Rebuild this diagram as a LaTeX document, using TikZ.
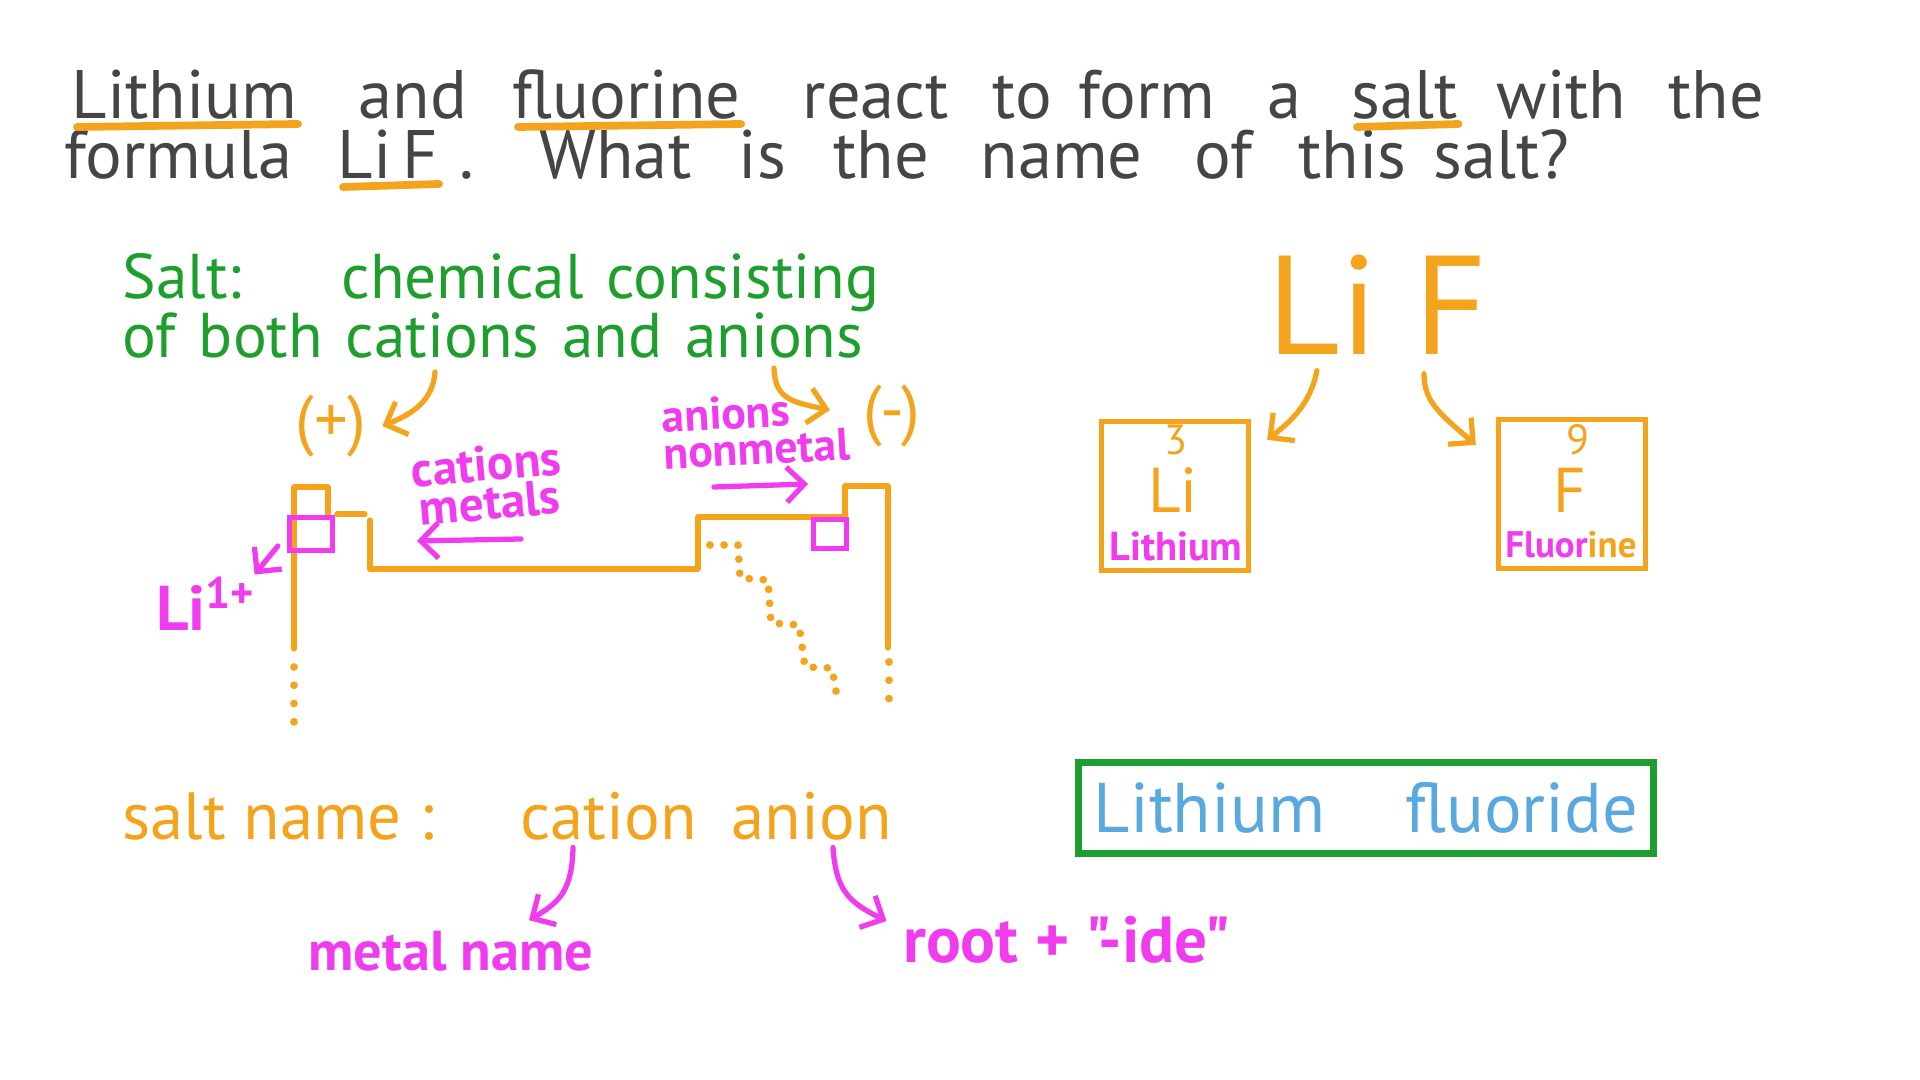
\documentclass[tikz,border=0pt]{standalone}
\usepackage{fontspec}
\setmainfont{PT Sans}
\newfontfamily\plainfont{PT Sans}
\usetikzlibrary{arrows.meta}
\definecolor{inkgray}{HTML}{454545}
\definecolor{penorange}{HTML}{F4A41C}
\definecolor{pengreen}{HTML}{1E9E2C}
\definecolor{penpink}{HTML}{F03CEE}
\definecolor{penblue}{HTML}{5AA8E0}

\begin{document}
\begin{tikzpicture}[
  x=0.01cm,
  y=-0.01cm,
  every node/.style={inner sep=0pt},
  question/.style={anchor=base west, inkgray, font=\fontsize{19.5}{24}\selectfont},
  defn/.style={anchor=base west, pengreen, font=\fontsize{18}{22}\selectfont,
    execute at begin node={\spaceskip=0.36em\relax}},
  hand/.style={penorange, font=\fontsize{19}{23}\selectfont},
  pinktext/.style={penpink, font=\bfseries\fontsize{14}{11}\selectfont},
  stroke/.style={line width=1.5pt, line cap=round, line join=round},
  pointer/.style={stroke, -{Straight Barb[length=5pt, width=10pt]}},
  uline/.style={penorange, line width=2.2pt, line cap=round},
  dotline/.style={penorange, line width=2.2pt, line cap=round, dash pattern=on 0pt off 5.2pt},
  cell/.style={draw=penorange, line width=1.5pt, minimum width=1.47cm, minimum height=1.49cm}
]
\useasboundingbox (0,0) rectangle (1920,1080);

%% ---- question ---------------------------------------------------------
\foreach \x/\w [count=\i] in {71/Lithium, 358/and, 512/fluorine, 802/react, 992/to,
    1078/form, 1267/a, 1351/salt, 1496/with, 1668/the}
  \node[question] (a\i) at (\x,119) {\w};
\foreach \x/\w [count=\i] in {64/formula, 337/{Li\,F}, 459/., 539/What, 738/is,
    833/the, 980/name, 1194/of, 1298/this, 1433/salt?}
  \node[question] (b\i) at (\x,179) {\w};
\foreach \n in {a1, a3, a8, b2}
  \draw[uline] ([shift={(6,8)}]\n.base west) -- ([shift={(0,5)}]\n.base east);

%% ---- definition -------------------------------------------------------
\node[defn] (def1) at (122,299) {Salt:\hspace{1cm}chemical consisting};
\node[defn] (def2) at (122,358) {of both cations and anions};
\coordinate (catfoot) at (435,372);
\coordinate (anfoot) at (774,368);

\node[hand] (plus) at (331,426) {(+)};
\node[hand] (minus) at (892,416) {(-)};
\draw[pointer, penorange] (catfoot) .. controls (433,402) and (410,415)
  .. ([shift={(15,0)}]plus.east);
\draw[pointer, penorange] (anfoot) .. controls (775,398) and (790,402)
  .. ([shift={(-33,-6)}]minus.west);

%% ---- periodic table sketch --------------------------------------------
\draw[stroke, penorange] (294,649) -- (294,487) -- (328,487) -- (328,514);
\draw[stroke, penorange] (337,514) -- (365,514);
\draw[stroke, penorange] (370,520) -- (370,569) -- (698,569) -- (698,517)
  -- (845,517) -- (845,486) -- (888,486) -- (888,648);
\draw[dotline] (294,667) -- (294,722);
\draw[dotline] (889,662) -- (889,702);
\draw[dotline, dash pattern=on 0pt off 4pt] (710,545) -- (738,545) -- (740,578)
  -- (768,580) -- (771,623) -- (799,625) -- (805,667) -- (832,668) -- (837,697);

\node[draw=penpink, line width=1.5pt, minimum width=0.43cm, minimum height=0.33cm] (lisq) at (311,534) {};
\node[draw=penpink, line width=1.5pt, minimum width=0.33cm, minimum height=0.29cm] (fsq) at (830,534) {};
\node[pinktext, font=\bfseries\fontsize{18}{20}\selectfont] (liion) at (206,604) {Li\textsuperscript{1+}};
\draw[pointer, penpink] ([shift={(-9,12)}]lisq.west) -- ([shift={(-2,-2)}]liion.north east);

\node[pinktext, align=center, rotate=5] (catlbl) at (488,483) {cations\\metals};
\draw[pointer, penpink] ([shift={(33,56)}]catlbl.center) -- ([shift={(-71,58)}]catlbl.center);
\node[pinktext, align=left, anchor=west, rotate=3, font=\bfseries\fontsize{13}{10.5}\selectfont]
  (anlbl) at (662,435) {anions\\nonmetal};
\draw[pointer, penpink] ([shift={(52,52)}]anlbl.west) -- ([shift={(146,49)}]anlbl.west);

%% ---- LiF and its elements ---------------------------------------------
\node[hand, anchor=base west, font=\fontsize{40}{44}\selectfont] (bigli) at (1267,355) {Li};
\node[hand, anchor=base west, font=\fontsize{40}{44}\selectfont] (bigf) at (1414,355) {F};

\node[cell] (libox) at (1175,496) {};
\node[hand, font=\fontsize{12}{13}\selectfont] (linum) at ([shift={(1,21)}]libox.north) {3};
\node[hand, font=\fontsize{18}{20}\selectfont] (lisym) at ([shift={(-2,-6)}]libox.center) {Li};
\node[pinktext, font=\bfseries\fontsize{11.5}{12}\selectfont] (liname) at ([shift={(1,-27)}]libox.south) {Lithium};

\node[cell] (fbox) at (1572,494) {};
\node[hand, font=\fontsize{12}{13}\selectfont] (fnum) at ([shift={(6,-54)}]fbox.center) {9};
\node[hand, font=\fontsize{18}{20}\selectfont] (fsym) at ([shift={(-2,-4)}]fbox.center) {F};
\node[pinktext, font=\bfseries\fontsize{10.5}{12}\selectfont] (fname) at ([shift={(-1,-27)}]fbox.south)
  {Fluor\textcolor{penorange}{ine}};

\draw[pointer, penorange] ([shift={(-6,15)}]bigli.south) .. controls (1310,405) and (1290,422)
  .. ([shift={(16,21)}]libox.north east);
\draw[pointer, penorange] ([shift={(10,18)}]bigf.south west) .. controls (1424,402) and (1440,414)
  .. ([shift={(-20,28)}]fbox.north west);

%% ---- naming rule ------------------------------------------------------
\node[hand, anchor=base west] (sname) at (122,840) {salt name :};
\node[hand, anchor=base west] (cat) at (520,840) {cation};
\node[hand, anchor=base west] (an) at (731,840) {anion};

\node[pinktext, font=\bfseries\fontsize{16}{18}\selectfont] (mname) at (451,951) {metal name};
\node[pinktext, font=\plainfont\bfseries\fontsize{18.5}{20}\selectfont] (root) at (1067,940)
  {root + "-ide"};

\draw[pointer, penpink] ([shift={(53,6)}]cat.south west) .. controls (572,890) and (560,902)
  .. ([shift={(78,-10)}]mname.north);
\draw[pointer, penpink] ([shift={(102,6)}]an.south west) .. controls (836,890) and (848,902)
  .. ([shift={(-16,-19)}]root.west);

\node[draw=pengreen, line width=2pt, minimum width=5.75cm, minimum height=0.9cm,
  text=penblue, font=\fontsize{20}{24}\selectfont] (answer) at (1366,808)
  {Lithium\hspace{0.8cm}fluoride};

\end{tikzpicture}
\end{document}
